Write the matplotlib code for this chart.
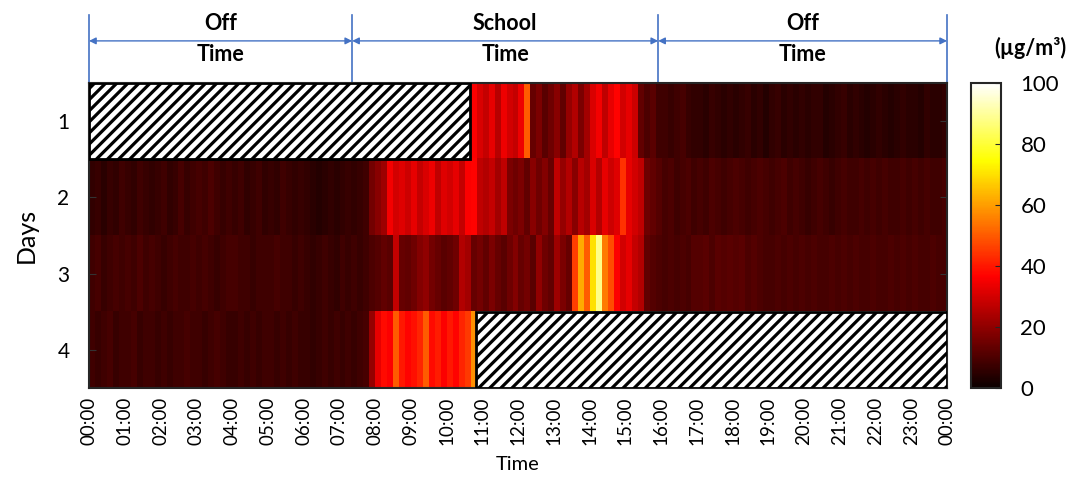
import numpy as np
import matplotlib.pyplot as plt
from matplotlib.patches import Rectangle
from matplotlib.transforms import blended_transform_factory

plt.rcParams['font.family'] = ['Lato', 'DejaVu Sans']
plt.rcParams['hatch.linewidth'] = 2.3

nan = np.nan

# PM concentration (ug/m3), 10-minute bins from 00:00 to 24:00, nan = no data
day1 = [nan] * 64 + [
    36, 31,
    28, 33, 26, 34, 30, 28,
    34, 50, 14, 17, 12, 15,
    19, 13, 21, 25, 17, 23,
    31, 35, 27, 33, 37, 30,
    33, 29, 13, 10, 12, 8,
    8, 7, 8, 9, 7, 6,
    6, 5, 7, 6, 5, 6,
    5, 6, 7, 5, 6, 4,
    6, 7, 5, 6, 5, 6,
    5, 6, 6, 4, 5, 6,
    7, 5, 6, 5, 4, 5,
    6, 5, 4, 5, 6, 5,
    5, 4, 6, 5, 5, 6,
]

day2 = [
    6, 7, 5, 7, 6, 8,
    7, 6, 8, 7, 6, 7,
    8, 6, 7, 9, 7, 8,
    9, 8, 10, 8, 7, 8,
    7, 8, 6, 7, 8, 6,
    7, 6, 8, 7, 6, 7,
    6, 5, 4, 5, 6, 5,
    6, 7, 6, 7, 8, 16,
    19, 22, 35, 30, 32, 29,
    33, 28, 31, 34, 27, 32,
    30, 33, 28, 36, 37, 27,
    25, 28, 23, 27, 17, 15,
    17, 13, 19, 15, 18, 14,
    27, 21, 25, 19, 26, 23,
    31, 25, 33, 29, 32, 44,
    33, 30, 27, 15, 13, 11,
    9, 10, 8, 9, 10, 8,
    9, 8, 10, 9, 8, 9,
    10, 9, 8, 9, 10, 9,
    8, 9, 10, 8, 9, 8,
    7, 8, 9, 8, 7, 8,
    9, 8, 8, 9, 8, 9,
    8, 9, 8, 8, 9, 8,
    9, 8, 9, 8, 8, 9,
]

day3 = [
    8, 9, 7, 8, 9, 8,
    9, 8, 10, 8, 9, 8,
    7, 8, 9, 8, 8, 9,
    8, 9, 8, 7, 8, 9,
    9, 8, 8, 7, 8, 8,
    8, 9, 8, 8, 7, 8,
    7, 6, 7, 8, 7, 6,
    8, 7, 8, 7, 8, 10,
    11, 13, 12, 28, 14, 13,
    15, 18, 20, 16, 14, 12,
    13, 15, 25, 23, 14, 16,
    13, 17, 14, 12, 15, 18,
    14, 16, 12, 20, 15, 13,
    22, 17, 14, 46, 62, 50,
    70, 88, 55, 48, 36, 30,
    33, 28, 25, 13, 11, 10,
    9, 10, 9, 10, 9, 11,
    11, 12, 10, 12, 11, 12,
    11, 12, 10, 11, 10, 9,
    9, 10, 9, 10, 9, 10,
    9, 10, 9, 9, 10, 9,
    10, 9, 10, 9, 9, 10,
    9, 9, 10, 9, 10, 9,
    10, 9, 9, 10, 9, 9,
]

day4 = [
    8, 7, 8, 9, 7, 8,
    8, 9, 7, 8, 8, 7,
    8, 7, 8, 8, 9, 8,
    8, 7, 8, 9, 8, 7,
    7, 8, 7, 8, 7, 8,
    8, 7, 8, 7, 8, 7,
    7, 6, 7, 8, 7, 8,
    7, 8, 7, 8, 9, 21,
    33, 38, 36, 50, 40, 37,
    39, 42, 50, 38, 41, 36,
    40, 37, 42, 45, 58,
] + [nan] * 79

days = [1, 2, 3, 4]
hours = list(range(25))
hour_labels = ['%02d:00' % (h % 24) for h in hours]

period_edges = [0, 7.36, 15.92, 24]
period_names = [('Off', 'Time'), ('School', 'Time'), ('Off', 'Time')]

data = np.array([day1, day2, day3, day4], dtype=float)

fig = plt.figure(figsize=(10.7, 4.78), dpi=100)
ax = fig.add_axes([0.0832, 0.1883, 0.8019, 0.6381])

im = ax.imshow(data, cmap='hot', vmin=0, vmax=100, aspect='auto',
               interpolation='nearest', extent=(0, 24, 4.5, 0.5))

# hatched boxes where there is no data
nbin = data.shape[1]
dt = 24 / nbin
for r in range(data.shape[0]):
    miss = np.isnan(data[r])
    i = 0
    while i < nbin:
        if miss[i]:
            j = i
            while j < nbin and miss[j]:
                j += 1
            ax.add_patch(Rectangle((i * dt, days[r] - 0.5), (j - i) * dt, 1,
                                   facecolor='white', edgecolor='black',
                                   hatch='///', lw=2, zorder=3))
            i = j
        else:
            i += 1

ax.set_xlim(0, 24)
ax.set_ylim(4.5, 0.5)
ax.set_xticks(hours)
ax.set_xticklabels(hour_labels, rotation=90, fontsize=13.5)
ax.tick_params(axis='x', length=0, pad=6)
ax.set_yticks(days)
ax.tick_params(axis='y', direction='in', length=5, labelsize=15, right=True,
               pad=14, color='#333333')
ax.set_xlabel('Time', fontsize=14.5, labelpad=8)
ax.set_ylabel('Days', fontsize=18, labelpad=14)
for s in ax.spines.values():
    s.set_color('#262626')
    s.set_linewidth(1.5)

# period annotation above the heatmap
tr = blended_transform_factory(ax.transData, ax.transAxes)
blue = '#4472C4'
for x in period_edges:
    ax.plot([x, x], [1.0, 1.223], color=blue, lw=1.2, transform=tr, clip_on=False)
for k, (top, bot) in enumerate(period_names):
    x0, x1 = period_edges[k], period_edges[k + 1]
    ax.annotate('', xy=(x1, 1.138), xytext=(x0, 1.138), xycoords=tr, textcoords=tr,
                arrowprops=dict(arrowstyle='<|-|>', color=blue, lw=1,
                                shrinkA=0, shrinkB=0, mutation_scale=10))
    xm = (x0 + x1) / 2
    ax.text(xm, 1.195, top, transform=tr, ha='center', va='center',
            fontsize=15.5, fontweight='bold')
    ax.text(xm, 1.095, bot, transform=tr, ha='center', va='center',
            fontsize=15.5, fontweight='bold')

cax = fig.add_axes([0.9075, 0.1883, 0.028, 0.6381])
cb = fig.colorbar(im, cax=cax, ticks=[0, 20, 40, 60, 80, 100])
cb.ax.tick_params(direction='in', length=4, labelsize=16, pad=14, color='#262626')
cb.outline.set_linewidth(1.5)
cb.outline.set_edgecolor('#262626')
fig.text(0.963, 0.9, '(µg/m³)', ha='center', va='center', fontsize=15.5,
         fontweight='bold')

fig.savefig('out.png', dpi=100)
